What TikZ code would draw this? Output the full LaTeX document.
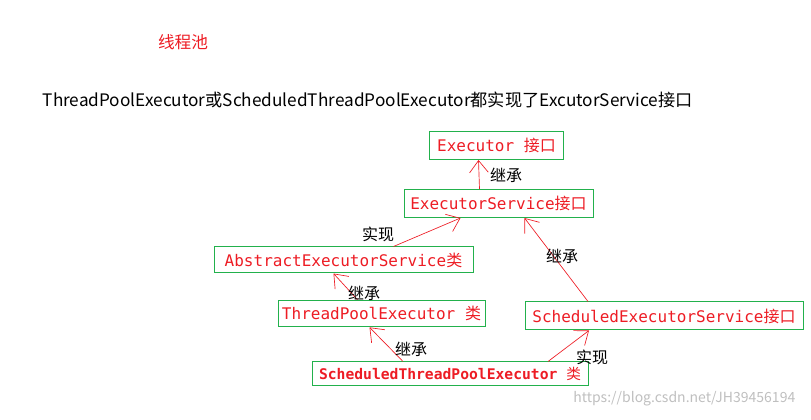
\documentclass[tikz,border=0pt]{standalone}
\usepackage{fontspec}
\setmainfont{Noto Sans CJK SC}
\setmonofont{DejaVu Sans Mono}
\newfontfamily\cjk{Noto Sans CJK SC}
\usetikzlibrary{arrows.meta,calc}

\definecolor{boxgreen}{RGB}{34,177,76}
\definecolor{txtred}{RGB}{237,28,36}

\tikzset{
    box/.style={draw=boxgreen, line width=0.75pt, text=txtred, inner sep=0pt,
        minimum height=21pt, font=\ttfamily\fontsize{12}{14}\selectfont},
    rel/.style={font=\cjk\fontsize{12}{14}\selectfont, inner sep=0pt},
    link/.style={->, txtred, line width=0.5pt}
}

\begin{document}
\begin{tikzpicture}[x=0.75pt, y=-0.75pt, >={Straight Barb[length=9pt,width=14pt]}]
    \useasboundingbox (0,0) rectangle (811,420);
    % heading
    \node[text=txtred, font=\cjk\fontsize{12.5}{14}\selectfont] (title) at (183,42) {线程池};
    \node[anchor=west, font=\fontsize{12.9}{16}\selectfont] (intro) at (38,100)
        {ThreadPoolExecutor或ScheduledThreadPoolExecutor都实现了ExcutorService接口};

    % classes and interfaces
    \node[box, minimum width=100pt] (exec) at (496.5,145.5) {Executor {\cjk 接口}};
    \node[box, minimum width=141.75pt] (execsvc) at (498.5,203.5) {ExecutorService{\cjk 接口}};
    \node[box, minimum width=194.25pt, minimum height=19.5pt] (abssvc) at (343.5,260) {AbstractExecutorService{\cjk 类}};
    \node[box, minimum width=155.25pt, minimum height=20pt] (tpe) at (381.5,313.5) {ThreadPoolExecutor {\cjk 类}};
    \node[box, minimum width=208.5pt] (schedsvc) at (664,316) {ScheduledExecutorService{\cjk 接口}};
    \node[box, minimum width=207pt, minimum height=18pt, font=\ttfamily\bfseries\fontsize{11}{13}\selectfont] (stpe) at (450,374) {ScheduledThreadPoolExecutor {\cjk\mdseries 类}};

    % relations
    \draw[link] ($(execsvc.north)+(-19,0)$) -- ($(exec.south)+(-18,0)$);
    \draw[link] ($(abssvc.north)+(50,0)$) -- ($(execsvc.south)+(-38,0)$);
    \draw[link] ($(schedsvc.north)+(-76,0)$) -- ($(execsvc.south)+(26,0)$);
    \draw[link] ($(tpe.north)+(-24,0)$) -- ($(abssvc.south)+(-10,0)$);
    \draw[link] ($(stpe.north)+(-47,0)$) -- ($(tpe.south)+(-12,0)$);
    \draw[link] ($(stpe.north)+(98,0)$) -- ($(schedsvc.south)+(-75,0)$);

    \node[rel] (l1) at (506,175) {继承};
    \node[rel] (l2) at (378,234) {实现};
    \node[rel] (l3) at (562,256) {继承};
    \node[rel] (l4) at (364,293) {继承};
    \node[rel] (l5) at (411,349) {继承};
    \node[rel] (l6) at (592,357) {实现};

    % watermark
    \node[text=black!25, font=\fontsize{10.5}{12}\selectfont, anchor=east] (mark) at (800,399) {https://blog.csdn.net/JH39456194};
\end{tikzpicture}
\end{document}
